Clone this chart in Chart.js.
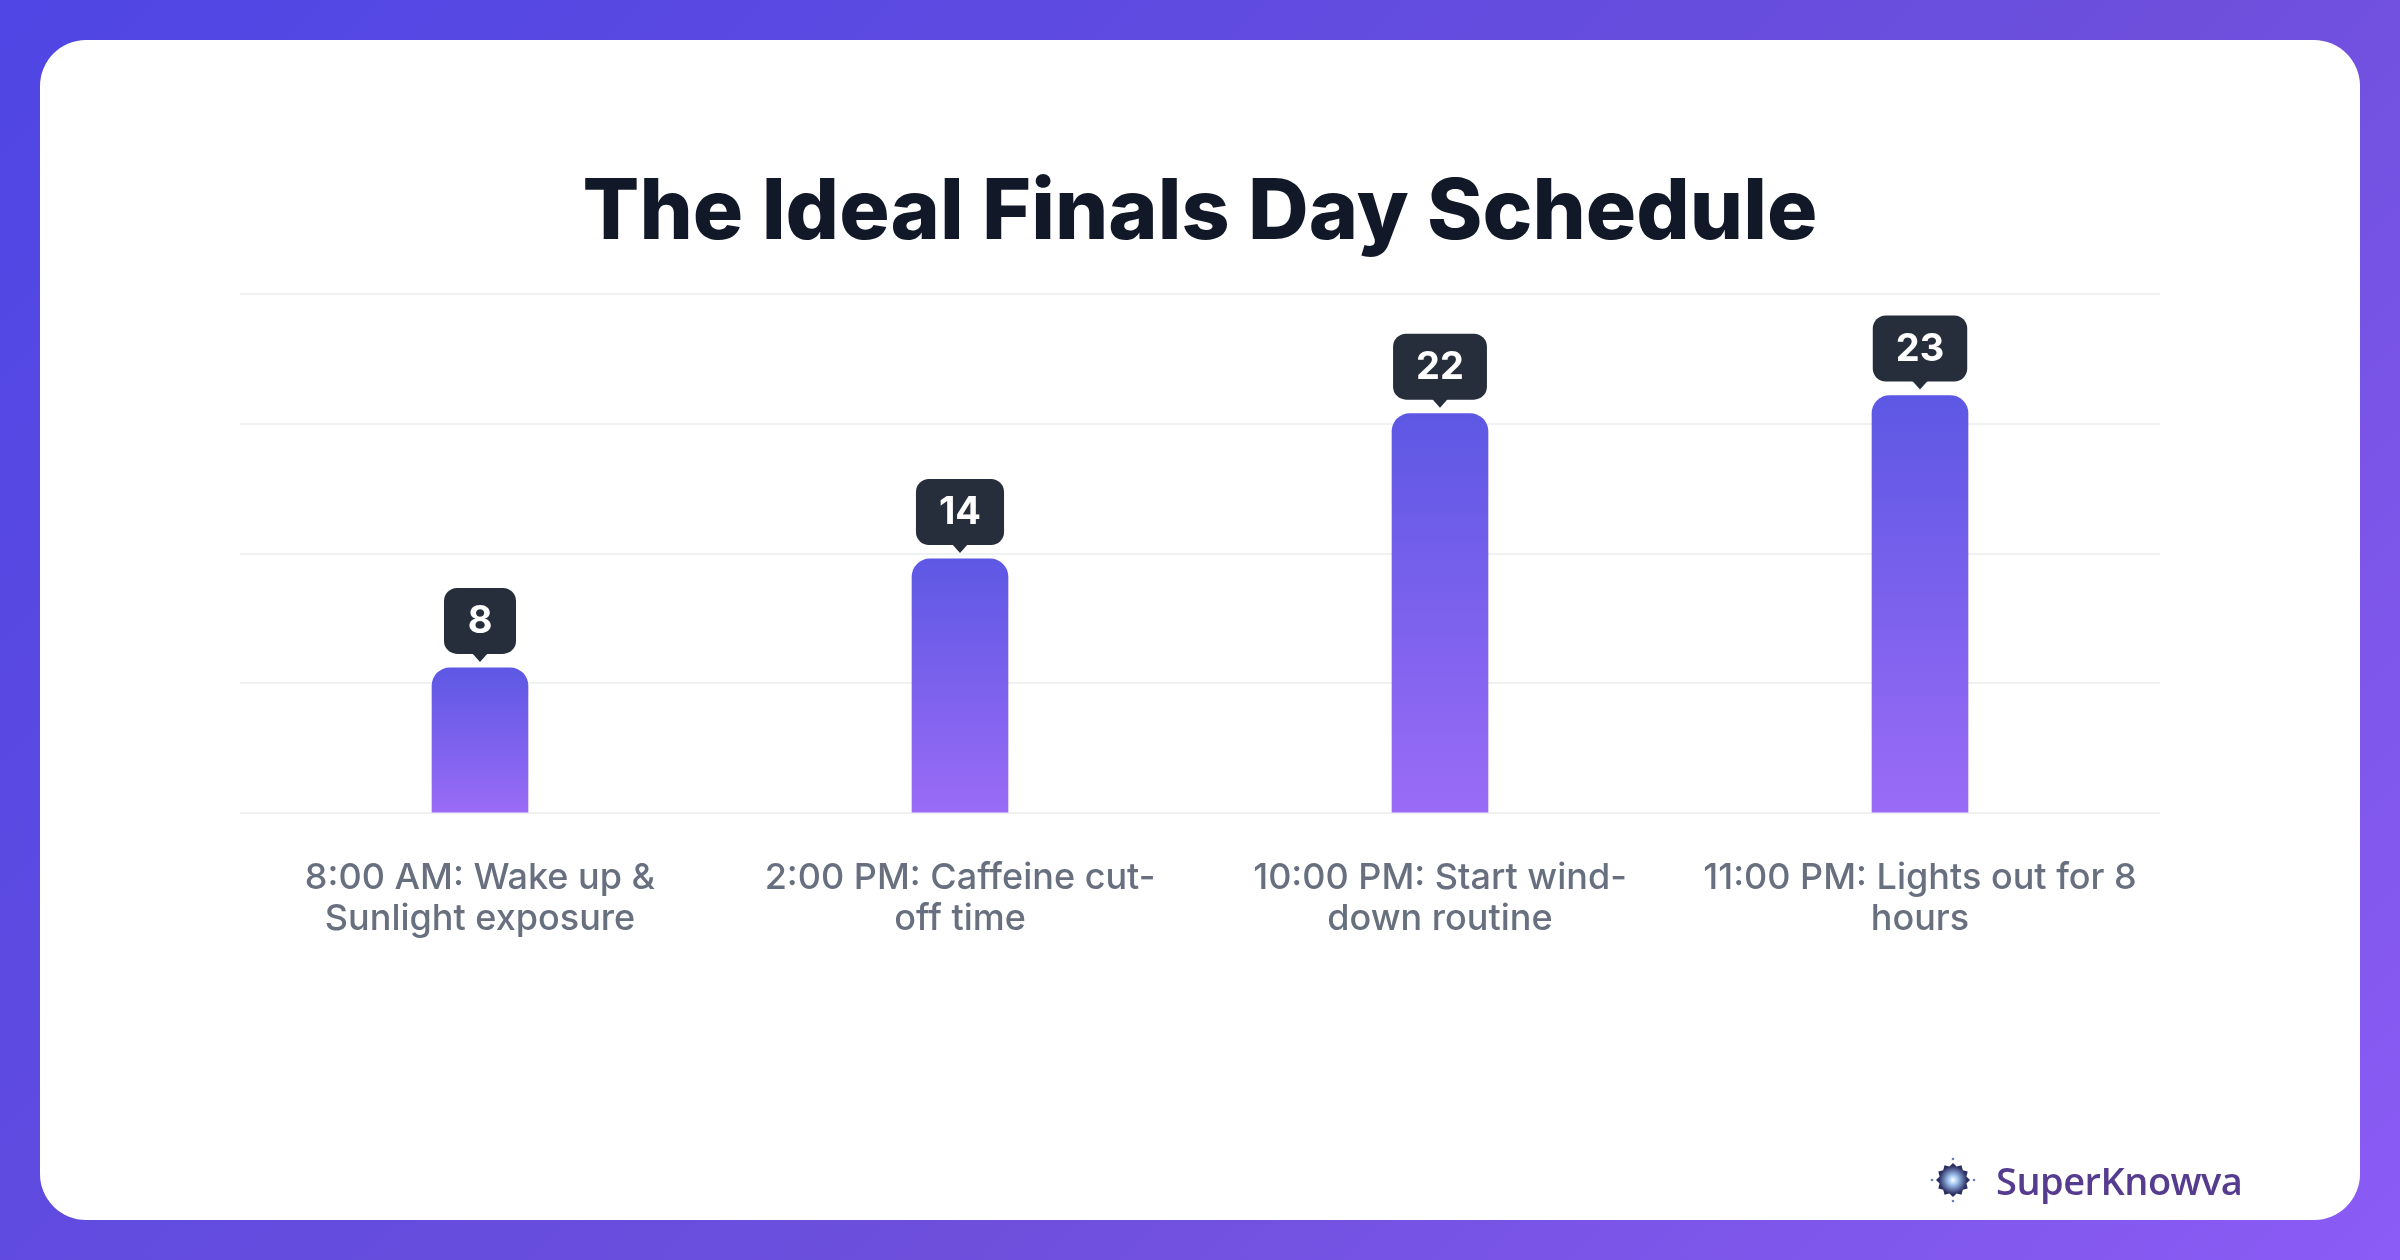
<!DOCTYPE html>
<html>
<head>
<meta charset="utf-8">
<script src="https://cdn.jsdelivr.net/npm/chart.js@4.4.1/dist/chart.umd.min.js"></script>
<style>
  html, body { margin: 0; padding: 0; }
  body {
    width: 2400px; height: 1260px; overflow: hidden; position: relative;
    background: linear-gradient(135deg, #4f46e5 0%, #6d4fdc 60%, #8b5cf6 100%);
    font-family: Inter, "Noto Sans", sans-serif;
  }
  .card {
    position: absolute; left: 40px; top: 40px; width: 2320px; height: 1180px;
    background: #fff; border-radius: 46px;
  }
  #wrap { position: absolute; left: 0; top: 0; width: 2400px; height: 1260px; }
  .brand {
    position: absolute; left: 1930px; top: 1152px; height: 56px;
    display: flex; align-items: center;
  }
  .brand span {
    font-family: "Open Sans", "Noto Sans", sans-serif; font-weight: 600;
    font-size: 38px; color: #553c8f; margin-left: 20px; letter-spacing: -0.5px;
  }
</style>
</head>
<body>
<div class="card"></div>
<div id="wrap"><canvas id="myChart" width="2400" height="1260"></canvas></div>
<div class="brand">
  <svg width="46" height="46" viewBox="-23 -23 46 46">
    <defs>
      <radialGradient id="glow" cx="0" cy="0" r="14" gradientUnits="userSpaceOnUse">
        <stop offset="0" stop-color="#ffffff"/>
        <stop offset="0.35" stop-color="#9fc3f0"/>
        <stop offset="1" stop-color="#2b2d63"/>
      </radialGradient>
    </defs>
    <polygon fill="url(#glow)" points="0,-17 3.6,-13.4 8.5,-14.7 9.8,-9.8 14.7,-8.5 13.4,-3.6 17,0 13.4,3.6 14.7,8.5 9.8,9.8 8.5,14.7 3.6,13.4 0,17 -3.6,13.4 -8.5,14.7 -9.8,9.8 -14.7,8.5 -13.4,3.6 -17,0 -13.4,-3.6 -14.7,-8.5 -9.8,-9.8 -8.5,-14.7 -3.6,-13.4"/>
    <circle cx="0" cy="-21" r="1.3" fill="#6a7fb8"/><circle cx="0" cy="21" r="1.3" fill="#6a7fb8"/>
    <circle cx="-21" cy="0" r="1.3" fill="#6a7fb8"/><circle cx="21" cy="0" r="1.3" fill="#6a7fb8"/>
  </svg>
  <span>SuperKnowva</span>
</div>
<script>
var categories = [
    ['8:00 AM: Wake up &', 'Sunlight exposure'],
    ['2:00 PM: Caffeine cut-', 'off time'],
    ['10:00 PM: Start wind-', 'down routine'],
    ['11:00 PM: Lights out for 8', 'hours']
];
var hourValues = [8, 14, 22, 23];
var yMin = 0;
var yMax = 28.6;
var gridCount = 5;

// dark value bubbles above each bar
var bubblePlugin = {
    id: 'bubbles',
    afterDatasetsDraw: function (chart) {
        var ctx = chart.ctx;
        var meta = chart.getDatasetMeta(0);
        ctx.save();
        ctx.font = 'bold 38px Inter, "Noto Sans", sans-serif';
        meta.data.forEach(function (bar, i) {
            var txt = String(hourValues[i]);
            var w = Math.max(72, ctx.measureText(txt).width + 46);
            var h = 66;
            var tipY = bar.y - 6;
            var bottom = tipY - 8;
            var top = bottom - h;
            ctx.fillStyle = '#262d3b';
            ctx.beginPath();
            ctx.roundRect(bar.x - w / 2, top, w, h, 13);
            ctx.fill();
            ctx.beginPath();
            ctx.moveTo(bar.x - 8, bottom - 1);
            ctx.lineTo(bar.x + 8, bottom - 1);
            ctx.lineTo(bar.x, tipY);
            ctx.closePath();
            ctx.fill();
            ctx.fillStyle = '#ffffff';
            ctx.textAlign = 'center';
            ctx.textBaseline = 'middle';
            ctx.fillText(txt, bar.x, top + h / 2 + 1);
        });
        ctx.restore();
    }
};

var ctx = document.getElementById('myChart').getContext('2d');
var myChart = new Chart(ctx, {
    type: 'bar',
    data: {
        labels: categories,
        datasets: [{
            label: 'Hour',
            data: hourValues,
            backgroundColor: function (c) {
                var chart = c.chart;
                if (!chart.chartArea || !chart.scales.y) return '#6d5ff0';
                var y = chart.scales.y;
                var top = y.getPixelForValue(c.raw);
                var base = y.getPixelForValue(0);
                var g = chart.ctx.createLinearGradient(0, top, 0, base);
                g.addColorStop(0, '#5d58e4');
                g.addColorStop(1, '#9a6bf6');
                return g;
            },
            borderRadius: { topLeft: 18, topRight: 18 },
            borderSkipped: 'bottom',
            barThickness: 96
        }]
    },
    options: {
        responsive: false,
        animation: false,
        layout: { padding: { left: 240, right: 240, top: 163, bottom: 284 } },
        plugins: {
            legend: { display: false },
            tooltip: { enabled: false },
            title: {
                display: true,
                text: 'The Ideal Finals Day Schedule',
                color: '#111827',
                font: { family: 'Inter', size: 84, weight: '800' },
                padding: { top: 0, bottom: 30 }
            }
        },
        scales: {
            x: {
                grid: { display: false },
                border: { display: false },
                ticks: {
                    color: '#687080',
                    font: { family: 'Inter', size: 36, weight: '500', lineHeight: 1.15 },
                    padding: 36,
                    maxRotation: 0
                }
            },
            y: {
                min: yMin,
                max: yMax,
                grid: { color: '#f0f1f3', lineWidth: 2, drawTicks: false },
                border: { display: false },
                ticks: { display: false, count: gridCount }
            }
        }
    },
    plugins: [bubblePlugin]
});
</script>
</body>
</html>
